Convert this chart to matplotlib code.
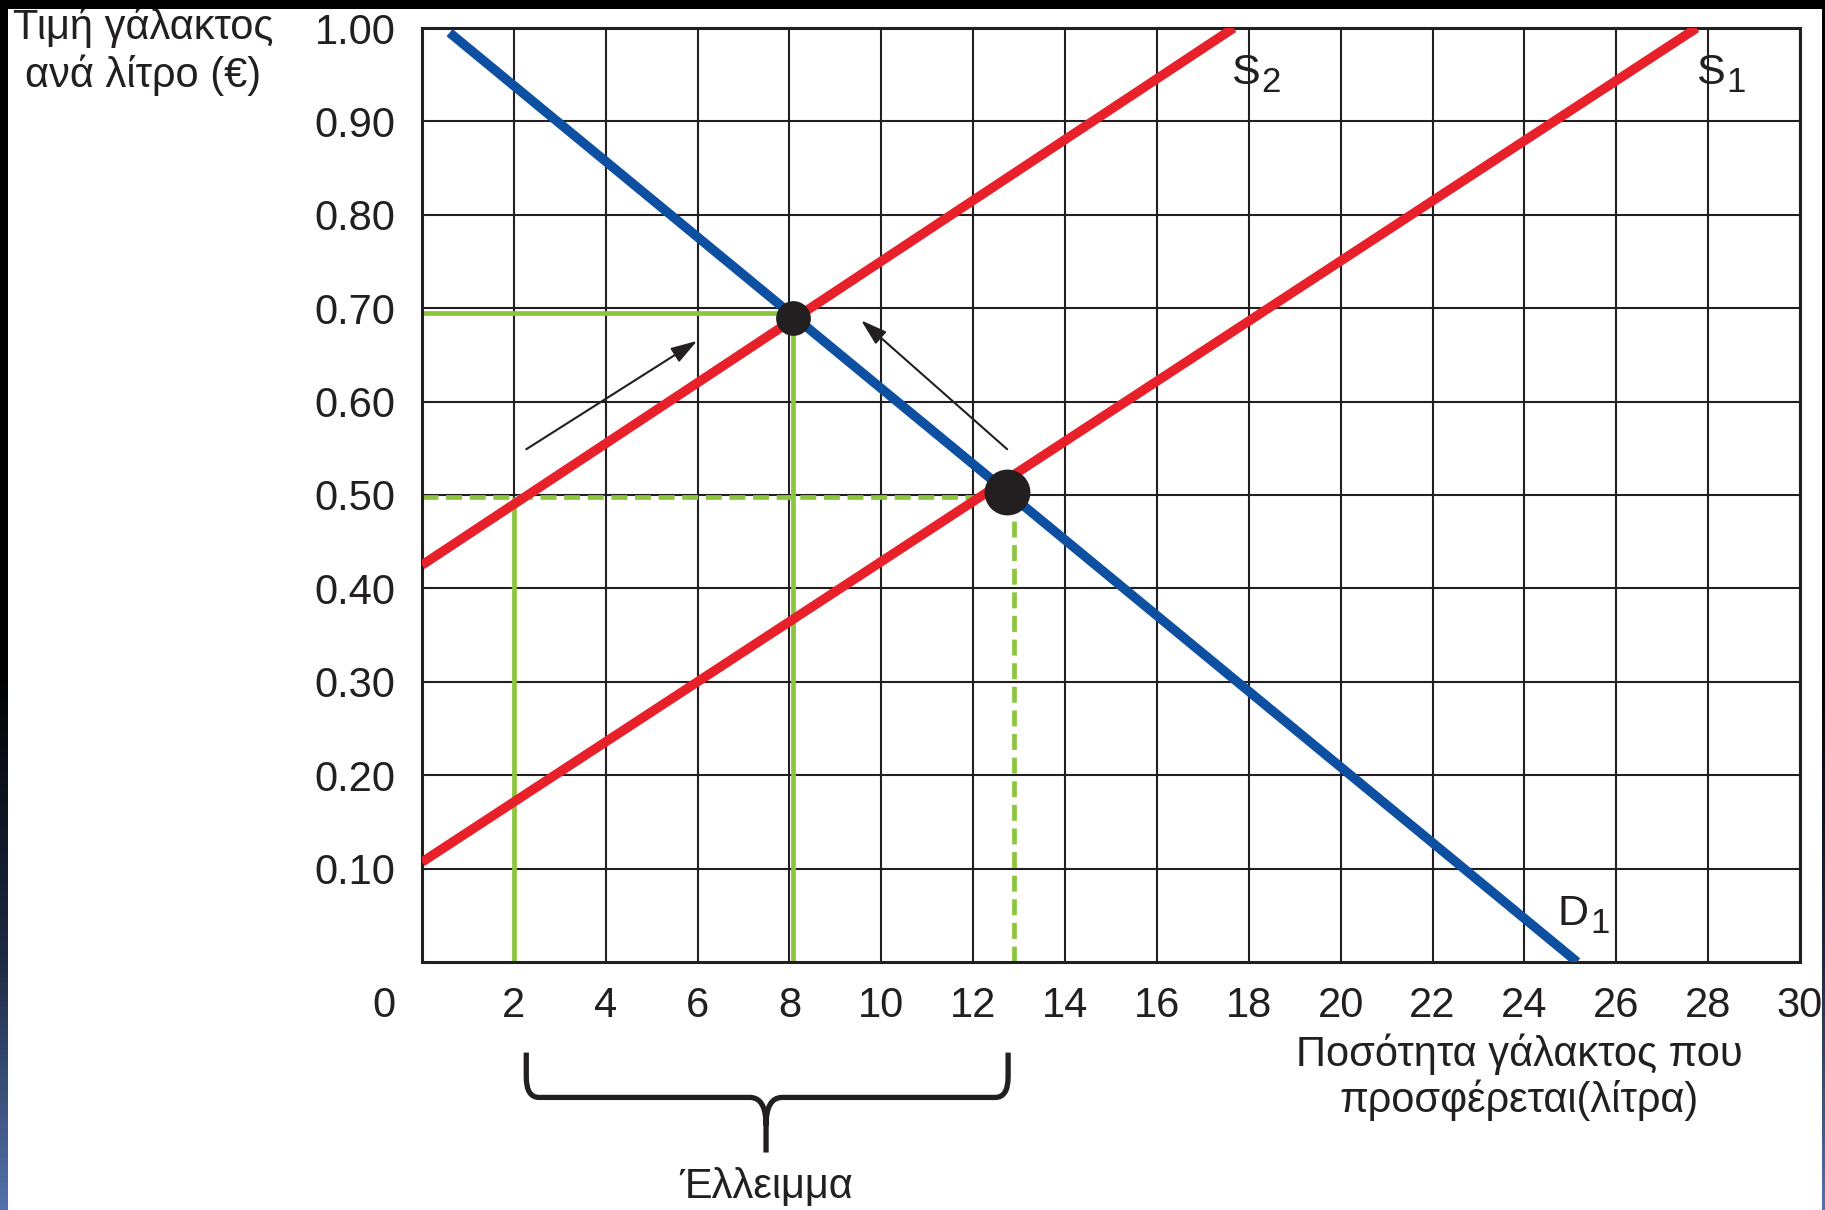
import numpy as np
import matplotlib
matplotlib.use("Agg")
import matplotlib.pyplot as plt
from matplotlib.path import Path
from matplotlib.patches import PathPatch, Rectangle
from matplotlib.colors import LinearSegmentedColormap

plt.rcParams['font.family'] = ['Liberation Sans', 'DejaVu Sans']
plt.rcParams['lines.scale_dashes'] = False

# ---------------- data ----------------
x_ticks = [2, 4, 6, 8, 10, 12, 14, 16, 18, 20, 22, 24, 26, 28, 30]
x_tick_labels = [str(v) for v in x_ticks]
y_ticks = [0.1, 0.2, 0.3, 0.4, 0.5, 0.6, 0.7, 0.8, 0.9, 1.0]
y_tick_labels = ["0.10", "0.20", "0.30", "0.40", "0.50", "0.60", "0.70", "0.80", "0.90", "1.00"]

demand_q = [0.6, 25.15]
demand_p = [0.995, 0.0]
s1_q = [0.0, 27.75]
s1_p = [0.107, 1.0]
s2_q = [0.0, 17.67]
s2_p = [0.425, 1.0]

eq_q = [8.08, 12.74]
eq_p = [0.69, 0.503]
eq_sizes = [24, 32]

new_eq_q = 8.08
new_eq_p = 0.695
ceiling_p = 0.498
q_supplied = 2.0
q_demanded = 12.89

arrow1 = [(2.27, 0.549), (5.99, 0.665)]
arrow2 = [(12.74, 0.549), (9.56, 0.687)]

bracket_left, bracket_mid, bracket_right = 2.27, 7.49, 12.76

curve_labels = [("S", "2", 17.62, 0.94), ("S", "1", 27.74, 0.94), ("D", "1", 24.72, 0.04)]

y_title = "Τιμή γάλακτος\nανά λίτρο (€)"
x_title = "Ποσότητα γάλακτος που\nπροσφέρεται(λίτρα)"
shortage_label = "Έλλειμμα"

# ---------------- style ----------------
RED = "#e8202a"
BLUE = "#0d4fa0"
GREEN = "#8cc63f"
INK = "#231f20"
FS = 30

W, H = 1825, 1210
fig = plt.figure(figsize=(W / 100, H / 100), dpi=100)
fig.patch.set_facecolor("white")
ax = fig.add_axes([422 / W, 1 - 962 / H, (1800 - 422) / W, (962 - 28) / H])
ax.set_xlim(0, 30)
ax.set_ylim(0, 1)

ax.set_xticks(x_ticks)
ax.set_xticklabels(x_tick_labels)
ax.set_yticks(y_ticks)
ax.set_yticklabels(y_tick_labels)
ax.tick_params(axis='x', length=0, pad=17, labelsize=FS, labelcolor=INK)
ax.tick_params(axis='y', length=0, pad=19, labelsize=FS, labelcolor=INK)
ax.set_axisbelow(True)
ax.grid(True, color=INK, lw=1.5)
for sp in ax.spines.values():
    sp.set_linewidth(2.2)
    sp.set_color(INK)

# origin label
ax.annotate("0", xy=(0, 0), xycoords='data', xytext=(-27.5, -17),
            textcoords='offset points', ha='center', va='top',
            fontsize=FS, color=INK, annotation_clip=False)

# green guide lines
GLW = 3.4
ax.plot([0, new_eq_q], [new_eq_p, new_eq_p], color=GREEN, lw=GLW, zorder=2, solid_capstyle='butt')
ax.plot([new_eq_q, new_eq_q], [0, new_eq_p], color=GREEN, lw=GLW, zorder=2, solid_capstyle='butt')
ax.plot([q_supplied, q_supplied], [0, ceiling_p], color=GREEN, lw=GLW, zorder=2, solid_capstyle='butt')
ax.plot([0, q_demanded], [ceiling_p, ceiling_p], color=GREEN, lw=GLW, zorder=2,
        dashes=(11.5, 5.5), dash_capstyle='butt')
ax.plot([q_demanded, q_demanded], [0, ceiling_p], color=GREEN, lw=GLW, zorder=2,
        dashes=(11.5, 5.5), dash_capstyle='butt')

# supply & demand
ax.plot(s1_q, s1_p, color=RED, lw=6.8, solid_capstyle='butt', zorder=3)
ax.plot(s2_q, s2_p, color=RED, lw=6.8, solid_capstyle='butt', zorder=3)
ax.plot(demand_q, demand_p, color=BLUE, lw=6.8, solid_capstyle='butt', zorder=3)

# arrows
for a in (arrow1, arrow2):
    ax.annotate("", xy=a[1], xytext=a[0],
                arrowprops=dict(arrowstyle='-|>,head_length=0.8,head_width=0.25',
                                mutation_scale=20, lw=1.5, color=INK,
                                shrinkA=0, shrinkB=0), zorder=4)

# equilibrium points
for q, p, s in zip(eq_q, eq_p, eq_sizes):
    ax.plot([q], [p], 'o', color=INK, markersize=s, zorder=5)

# curve labels (letter + subscript)
for letter, sub, x, y in curve_labels:
    t = ax.text(x, y, letter, fontsize=31, color=INK, ha='left', va='baseline', zorder=6)
    wpt = 21.5 if letter == "S" else 23.5
    ax.annotate(sub, xy=(x, y), xytext=(wpt, -6), textcoords='offset points',
                fontsize=25, color=INK, ha='left', va='baseline', zorder=6)

# bracket
yt, yh, yb = -0.097, -0.145, -0.204
r = 0.28
verts = [
    (bracket_left, yt), (bracket_left, yh + 0.022),
    (bracket_left, yh), (bracket_left + r, yh),
    (bracket_mid - 0.35, yh),
    (bracket_mid, yh), (bracket_mid, yh - 0.03),
    (bracket_mid, yb),
    (bracket_mid, yh - 0.03),
    (bracket_mid, yh), (bracket_mid + 0.35, yh),
    (bracket_right - r, yh),
    (bracket_right, yh), (bracket_right, yh + 0.022),
    (bracket_right, yt),
]
codes = [Path.MOVETO, Path.LINETO,
         Path.CURVE3, Path.CURVE3,
         Path.LINETO,
         Path.CURVE3, Path.CURVE3,
         Path.LINETO,
         Path.MOVETO,
         Path.CURVE3, Path.CURVE3,
         Path.LINETO,
         Path.CURVE3, Path.CURVE3,
         Path.LINETO]
ax.add_patch(PathPatch(Path(verts, codes), facecolor='none', edgecolor=INK,
                       lw=3.8, clip_on=False, capstyle='butt', joinstyle='round'))
ax.text(bracket_mid, -0.241, shortage_label, fontsize=FS, color=INK,
        ha='center', va='center', clip_on=False)

# axis titles
fig.text(143 / W, 1 - 51 / H, y_title, fontsize=FS, color=INK, ha='center', va='center',
         linespacing=1.2)
fig.text(1519 / W, 1 - 1077 / H, x_title, fontsize=FS, color=INK, ha='center', va='center',
         linespacing=1.15)

# frame bands (scan border)
cmap = LinearSegmentedColormap.from_list("band", [(0, "#000000"), (0.55, "#000000"),
                                                   (0.8, "#1f2c45"), (1.0, "#5272aa")])
grad = np.linspace(0, 1, 256).reshape(-1, 1)
for x0, w in ((0, 8), (1822, 3)):
    bax = fig.add_axes([x0 / W, 0, w / W, 1])
    bax.imshow(grad, aspect='auto', cmap=cmap, origin='upper', extent=(0, 1, 0, 1))
    bax.set_axis_off()
fig.patches.append(Rectangle((0, 1 - 9 / H), 1, 9 / H, transform=fig.transFigure,
                             facecolor='black', edgecolor='none', zorder=10))

fig.savefig("out.png", dpi=100)
